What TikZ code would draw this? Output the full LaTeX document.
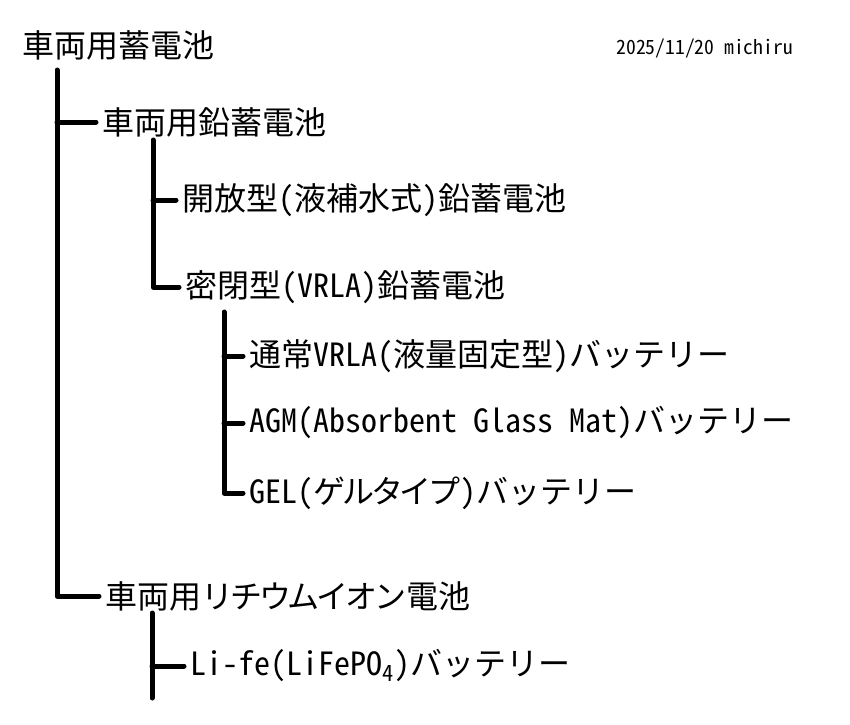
\documentclass[tikz,border=0pt]{standalone}
\usepackage{fontspec}
\setmainfont{Noto Sans CJK JP}[RawFeature={+hwid}]
\usepackage{tikz}
\newcommand{\tightkana}[1]{{\addfontfeature{LetterSpace=-10}#1}}

\begin{document}
\begin{tikzpicture}[x=0.5pt, y=-0.5pt, line width=2.5pt,
    item/.style={anchor=west, inner sep=0pt, font=\fontsize{16}{16}\selectfont},
    stem/.style={draw=black, line cap=round, line join=round, shorten >=2pt}]
  \useasboundingbox (0,0) rectangle (850,724);
  % the titles
  \node[item] (root) at (20,45) {車両用蓄電池};
  \node[anchor=west, inner sep=0pt, font=\fontsize{9.8}{10}\selectfont] (date)
    at (614,48) {2025/11/20 michiru};
  % first level
  \node[item] (lead) at (100,122) {車両用鉛蓄電池};
  \node[item] (lithium) at (103,596) {車両用\tightkana{リチウムイオン}電池};
  % lead-acid kinds
  \node[item] (flooded) at (180,200) {開放型(液補水式)鉛蓄電池};
  \node[item] (vrla) at (183,287) {密閉型(VRLA)鉛蓄電池};
  % sealed kinds
  \node[item] (normal) at (247,356) {通常VRLA(液量固定型)バッテリー};
  \node[item] (agm) at (247,423) {AGM(Absorbent Glass Mat)バッテリー};
  \node[item] (gel) at (247,493) {GEL(\tightkana{^^^^30b2ルタイ^^^^30d7})バッテリー};
  % lithium kinds
  \node[item] (lfp) at (188,666) {Li-fe(LiFePO\textsubscript{4})バッテリー};
  % the stems
  \coordinate (rootstem) at (57,70);
  \coordinate (leadstem) at (153,140);
  \coordinate (vrlastem) at (224,312);
  \coordinate (lithstem) at (152,613);
  \coordinate (lithend) at (152,702);
  \draw[stem] (rootstem) |- (lithium.west);
  \draw[stem] (rootstem |- lead.west) -- (lead.west);
  \draw[stem] (leadstem) |- (vrla.west);
  \draw[stem] (leadstem |- flooded.west) -- (flooded.west);
  \draw[stem] (vrlastem) |- (gel.west);
  \foreach \n in {normal,agm}{
    \draw[stem] (vrlastem |- \n.west) -- (\n.west);}
  \draw[stem] (lithstem) -- (lithend);
  \draw[stem] (lithstem |- lfp.west) -- (lfp.west);
\end{tikzpicture}
\end{document}
